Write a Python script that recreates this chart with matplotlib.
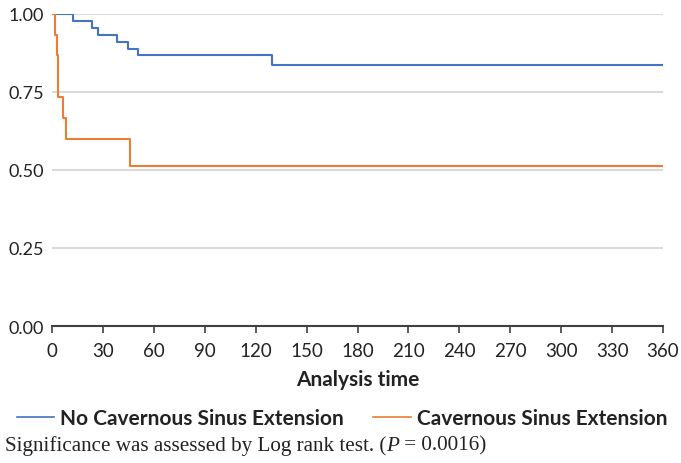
import matplotlib
matplotlib.use("Agg")
import matplotlib.pyplot as plt
from matplotlib.lines import Line2D
from matplotlib.offsetbox import TextArea, HPacker, AnchoredOffsetbox

# Kaplan-Meier step data (time, survival)
no_cse_time = [0, 12.6, 23.8, 26.9, 38.1, 45.0, 50.9, 129.9, 360]
no_cse_surv = [1.0, 0.978, 0.956, 0.933, 0.911, 0.889, 0.867, 0.837, 0.837]
cse_time = [0, 1.8, 2.7, 3.7, 6.7, 8.4, 46.0, 360]
cse_surv = [1.0, 0.933, 0.867, 0.733, 0.667, 0.600, 0.514, 0.514]

x_ticks = list(range(0, 361, 30))
y_ticks = [0.0, 0.25, 0.5, 0.75, 1.0]
y_labels = ["0.00", "0.25", "0.50", "0.75", "1.00"]
series_names = ["No Cavernous Sinus Extension", "Cavernous Sinus Extension"]
colors = ["#4472C4", "#ED7D31"]

W, H = 681, 464
fig = plt.figure(figsize=(W / 100, H / 100), dpi=100)
ax = fig.add_axes([52 / W, 1 - 327 / H, (663 - 52) / W, (327 - 15) / H])

tick_font = "Lato"
ax.step(no_cse_time, no_cse_surv, where="post", color=colors[0], lw=1.5, zorder=3)
ax.step(cse_time, cse_surv, where="post", color=colors[1], lw=1.5, zorder=3)

ax.set_xlim(0, 360)
ax.set_ylim(0, 1.0)
ax.set_xticks(x_ticks)
ax.set_yticks(y_ticks)
ax.set_yticklabels(y_labels)
for s in ["top", "right", "left"]:
    ax.spines[s].set_visible(False)
ax.spines["bottom"].set_color("#404040")
ax.spines["bottom"].set_linewidth(1.5)
ax.spines["bottom"].set_zorder(4)
ax.yaxis.grid(True, color="#D9D9D9", lw=1.5)
ax.set_axisbelow(True)
ax.tick_params(axis="y", length=0, pad=6, labelsize=13)
ax.tick_params(axis="x", length=5, width=1.2, color="#404040", pad=6.5, labelsize=13.5)
for lab in ax.get_xticklabels() + ax.get_yticklabels():
    lab.set_fontfamily(tick_font)
    lab.set_color("#222222")
ax.set_xlabel("Analysis time", fontfamily=tick_font, fontweight="bold", fontsize=15,
              labelpad=7, color="#222222")

handles = [Line2D([], [], color=c, lw=1.2) for c in colors]
leg = fig.legend(handles, series_names, loc="center", bbox_to_anchor=(342 / W, 1 - 419 / H),
                 ncol=2, frameon=False,
                 prop={"family": tick_font, "weight": "bold", "size": 15},
                 handlelength=1.8, handletextpad=0.3, columnspacing=1.4,
                 borderpad=0, borderaxespad=0)
for txt in leg.get_texts():
    txt.set_color("#222222")

parts = [TextArea("Significance was assessed by Log rank test. (",
                  textprops=dict(family="Liberation Serif", size=15.2, color="#222222")),
         TextArea("P", textprops=dict(family="Liberation Serif", size=15.2, style="italic", color="#222222")),
         TextArea(" = 0.0016)", textprops=dict(family="Liberation Serif", size=15.2, color="#222222"))]
box = HPacker(children=parts, align="baseline", pad=0, sep=0)
ab = AnchoredOffsetbox(loc="center left", child=box, frameon=False,
                       bbox_to_anchor=(5 / W, 1 - 446 / H), bbox_transform=fig.transFigure,
                       borderpad=0, pad=0)
fig.add_artist(ab)

fig.savefig("out.png", dpi=100)
